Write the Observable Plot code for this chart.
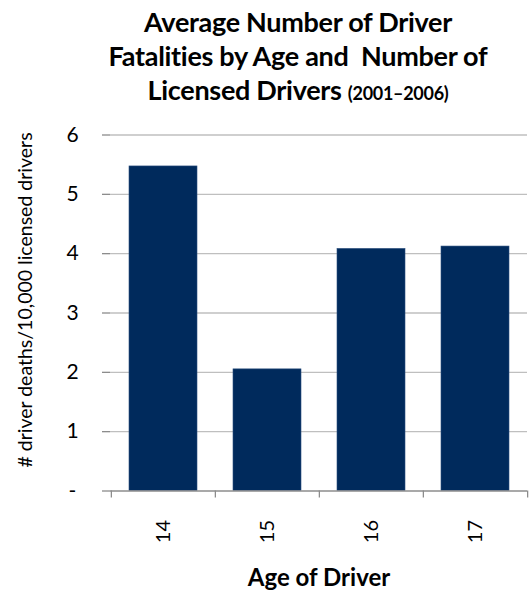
<!DOCTYPE html>
<html>
<head>
<meta charset="utf-8">
<script src="https://cdn.jsdelivr.net/npm/d3@7"></script>
<script src="https://cdn.jsdelivr.net/npm/@observablehq/plot@0.6"></script>
<style>
  html, body { margin: 0; padding: 0; background: #fff; }
  #wrap { position: relative; width: 529px; height: 592px; overflow: hidden; font-family: Lato, "Open Sans", sans-serif; }
  #title { position: absolute; top: 5px; left: 298px; transform: translateX(-50%); white-space: nowrap; text-align: center;
           font-weight: bold; font-size: 27px; line-height: 34px; color: #000; letter-spacing: -0.3px; }
  #title .small { font-size: 18px; }
  #ytitle { position: absolute; left: 24px; top: 300px; transform: translate(-50%, -50%) rotate(-90deg);
            white-space: nowrap; font-size: 19.5px; color: #000; }
  #chart { position: absolute; top: 0; left: 0; }
</style>
</head>
<body>
<div id="wrap">
  <div id="chart"></div>
  <div id="title">Average Number of Driver<br>Fatalities by Age and&nbsp; Number of<br>Licensed Drivers <span class="small">(2001–2006)</span></div>
  <div id="ytitle"></div>
</div>
<script>
const ages = ["14", "15", "16", "17"];
const deathsPer10k = [5.47, 2.05, 4.08, 4.12];
const yTicks = [0, 1, 2, 3, 4, 5, 6];
const xTitle = "Age of Driver";
const yTitle = "# driver deaths/10,000 licensed drivers";

const data = ages.map((a, i) => ({age: a, value: deathsPer10k[i]}));

const W = 529, H = 592;
const mL = 110, mR = 2, mT = 134.5, mB = 101.5;
const step = (W - mL - mR) / ages.length;

const plot = Plot.plot({
  width: W,
  height: H,
  marginLeft: mL,
  marginRight: mR,
  marginTop: mT,
  marginBottom: mB,
  style: {fontFamily: "Lato, 'Open Sans', sans-serif", background: "transparent", color: "#000"},
  x: {domain: ages, paddingInner: 0.35, paddingOuter: 0.175, axis: null},
  y: {domain: [0, 6], axis: null},
  marks: [
    Plot.gridY(yTicks.filter(d => d > 0), {stroke: "#bfbfbf", strokeOpacity: 1, strokeWidth: 1.3}),
    Plot.barY(data, {x: "age", y: "value", fill: "#002a5c", stroke: "#2b4f7f", strokeWidth: 0.6}),
    Plot.ruleY([0], {stroke: "#8c8c8c", strokeWidth: 1.3}),
    Plot.ruleX([0], {frameAnchor: "left", stroke: "#8c8c8c", strokeWidth: 1.3}),
    Plot.axisY({ticks: yTicks, tickSize: 8, tickPadding: 30, textAnchor: "middle",
      tickFormat: d => d === 0 ? "-" : String(d), fontSize: 21, stroke: "#8c8c8c", strokeWidth: 1.3, label: null}),
    Plot.axisX({ticks: ages, tickSize: 0, tickPadding: 29, tickRotate: -90, fontSize: 20, label: null}),
    Plot.axisX({ticks: ages, tickSize: 7, tickFormat: () => "", dx: -step / 2, stroke: "#8c8c8c", strokeWidth: 1.3, label: null}),
    Plot.axisX({ticks: ages.slice(-1), tickSize: 7, tickFormat: () => "", dx: step / 2, stroke: "#8c8c8c", strokeWidth: 1.3, label: null}),
    Plot.text([xTitle], {frameAnchor: "bottom", dy: 95, fontSize: 24, fontWeight: "bold", fill: "#000"})
  ]
});
document.getElementById("chart").appendChild(plot);
document.getElementById("ytitle").textContent = yTitle;
</script>
</body>
</html>
